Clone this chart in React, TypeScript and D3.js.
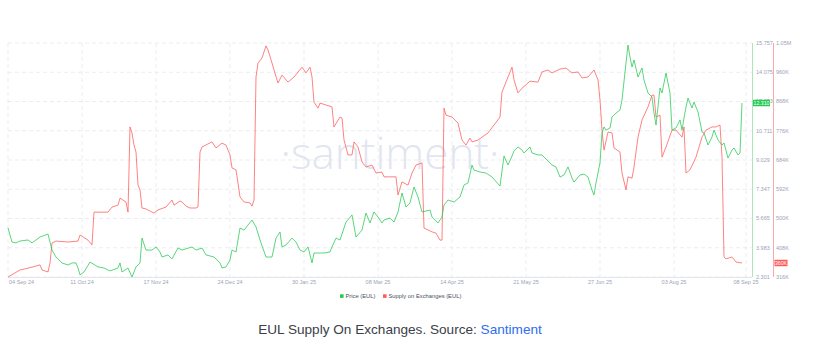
import React, { useEffect, useRef } from "react";
import * as d3 from "d3";

const W = 822;
const H = 351;

const priceDates = [
  "2024-09-04","2024-09-06","2024-09-08","2024-09-10","2024-09-14","2024-09-16","2024-09-18","2024-09-20","2024-09-24","2024-09-25",
  "2024-09-26","2024-09-28","2024-10-01","2024-10-04","2024-10-06","2024-10-08","2024-10-09","2024-10-10","2024-10-12","2024-10-15",
  "2024-10-19","2024-10-22","2024-10-25","2024-10-29","2024-10-30","2024-10-31","2024-11-03","2024-11-05","2024-11-07","2024-11-09",
  "2024-11-10","2024-11-12","2024-11-15","2024-11-17","2024-11-19","2024-11-20","2024-11-23","2024-11-25","2024-11-28","2024-11-30",
  "2024-12-05","2024-12-07","2024-12-10","2024-12-12","2024-12-16","2024-12-19","2024-12-20","2024-12-22","2024-12-24","2024-12-25",
  "2024-12-27","2024-12-29","2024-12-31","2025-01-04","2025-01-06","2025-01-08","2025-01-11","2025-01-14","2025-01-16","2025-01-18",
  "2025-01-19","2025-01-21","2025-01-24","2025-01-26","2025-01-28","2025-01-30","2025-02-01","2025-02-03","2025-02-04","2025-02-07",
  "2025-02-09","2025-02-12","2025-02-13","2025-02-15","2025-02-17","2025-02-20","2025-02-23","2025-02-25","2025-02-28","2025-03-02",
  "2025-03-04","2025-03-06","2025-03-08","2025-03-10","2025-03-11","2025-03-14","2025-03-16","2025-03-18","2025-03-20","2025-03-22",
  "2025-03-24","2025-03-26","2025-03-28","2025-03-30","2025-04-03","2025-04-04","2025-04-07","2025-04-09","2025-04-10","2025-04-12",
  "2025-04-15","2025-04-18","2025-04-20","2025-04-22","2025-04-24","2025-04-25","2025-04-28","2025-05-01","2025-05-04","2025-05-08",
  "2025-05-10","2025-05-12","2025-05-14","2025-05-15","2025-05-17","2025-05-19","2025-05-20","2025-05-23","2025-05-24","2025-05-27",
  "2025-05-29","2025-05-30","2025-06-02","2025-06-03","2025-06-05","2025-06-07","2025-06-09","2025-06-11","2025-06-13","2025-06-14",
  "2025-06-17","2025-06-19","2025-06-21","2025-06-23","2025-06-24","2025-06-25","2025-06-27","2025-06-28","2025-06-29","2025-06-30",
  "2025-07-02","2025-07-03","2025-07-05","2025-07-07","2025-07-08","2025-07-10","2025-07-11","2025-07-12","2025-07-13","2025-07-14",
  "2025-07-16","2025-07-18","2025-07-19","2025-07-21","2025-07-23","2025-07-24","2025-07-25","2025-07-27","2025-07-28","2025-07-30",
  "2025-08-01","2025-08-02","2025-08-04","2025-08-06","2025-08-07","2025-08-08","2025-08-09","2025-08-10","2025-08-12","2025-08-13",
  "2025-08-15","2025-08-17","2025-08-18","2025-08-20","2025-08-22","2025-08-23","2025-08-25","2025-08-27","2025-08-28","2025-08-30",
  "2025-09-01","2025-09-02","2025-09-04","2025-09-05","2025-09-06",
];
const priceValues = [
  5.12,4.31,4.26,4.37,4.43,4.26,4.43,4.60,4.77,4.31,
  3.85,3.45,3.11,2.99,3.11,3.11,2.82,2.42,2.59,3.16,
  2.88,2.82,2.65,2.82,3.11,2.59,2.82,2.30,2.88,3.11,
  4.54,3.85,3.85,4.03,3.74,3.45,3.57,3.34,3.97,3.85,
  4.03,3.85,3.97,3.57,3.45,3.11,2.82,2.88,3.28,3.85,
  3.74,5.12,5.00,5.58,5.18,4.43,3.45,3.45,4.54,4.89,
  4.03,4.14,4.54,4.31,3.85,3.74,4.03,3.11,3.68,3.68,
  3.68,3.74,4.03,4.54,4.43,5.46,5.87,4.60,5.00,5.98,
  5.41,6.04,5.75,5.41,5.58,5.69,5.46,6.04,7.13,6.33,
  6.56,7.48,6.90,6.04,6.15,5.75,5.41,5.75,6.44,6.73,
  6.61,6.90,7.59,7.71,8.74,8.45,8.34,8.28,8.05,7.53,
  9.26,8.74,9.26,9.55,9.78,9.60,9.43,9.78,9.43,9.32,
  9.32,9.20,8.86,8.74,8.63,8.05,8.17,8.63,7.99,7.76,
  8.17,8.22,8.05,7.30,7.02,7.71,8.86,10.58,10.93,10.75,
  10.87,11.50,11.73,11.90,12.48,14.61,15.64,14.95,14.38,14.78,
  13.80,14.32,13.63,12.88,12.65,11.73,11.04,13.17,12.88,14.03,
  12.88,10.75,10.87,11.33,10.75,11.44,12.08,12.59,12.02,12.36,
  11.79,10.64,10.58,9.89,10.35,10.75,10.18,9.89,10.01,9.14,
  9.60,9.72,9.32,9.43,12.31,
];

const supplyDates = [
  "2024-09-04","2024-09-10","2024-09-16","2024-09-20","2024-09-21","2024-09-24","2024-09-25","2024-09-26","2024-09-28","2024-10-04",
  "2024-10-09","2024-10-10","2024-10-14","2024-10-16","2024-10-17","2024-10-24","2024-10-26","2024-10-29","2024-10-30","2024-11-02",
  "2024-11-03","2024-11-04","2024-11-05","2024-11-06","2024-11-07","2024-11-08","2024-11-09","2024-11-10","2024-11-12","2024-11-16",
  "2024-11-18","2024-11-22","2024-11-25","2024-11-26","2024-11-29","2024-11-30","2024-12-02","2024-12-04","2024-12-07","2024-12-08",
  "2024-12-09","2024-12-10","2024-12-15","2024-12-17","2024-12-20","2024-12-22","2024-12-24","2024-12-25","2024-12-27","2024-12-29",
  "2024-12-31","2025-01-03","2025-01-04","2025-01-05","2025-01-06","2025-01-07","2025-01-09","2025-01-11","2025-01-12","2025-01-14",
  "2025-01-15","2025-01-17","2025-01-19","2025-01-22","2025-01-25","2025-01-29","2025-01-31","2025-02-02","2025-02-03","2025-02-04",
  "2025-02-06","2025-02-07","2025-02-13","2025-02-14","2025-02-17","2025-02-18","2025-02-19","2025-02-21","2025-02-23","2025-02-24",
  "2025-02-26","2025-02-28","2025-03-02","2025-03-05","2025-03-07","2025-03-10","2025-03-11","2025-03-17","2025-03-18","2025-03-20",
  "2025-03-23","2025-03-25","2025-03-27","2025-03-30","2025-03-31","2025-04-04","2025-04-06","2025-04-08","2025-04-09","2025-04-10",
  "2025-04-11","2025-04-14","2025-04-17","2025-04-19","2025-04-21","2025-04-23","2025-04-24","2025-04-27","2025-04-29","2025-05-02",
  "2025-05-05","2025-05-08","2025-05-09","2025-05-11","2025-05-14","2025-05-15","2025-05-17","2025-05-19","2025-05-23","2025-05-27",
  "2025-05-29","2025-06-01","2025-06-03","2025-06-07","2025-06-10","2025-06-13","2025-06-16","2025-06-18","2025-06-21","2025-06-24",
  "2025-06-26","2025-06-27","2025-06-28","2025-06-29","2025-07-01","2025-07-03","2025-07-04","2025-07-07","2025-07-08","2025-07-10",
  "2025-07-11","2025-07-13","2025-07-14","2025-07-16","2025-07-18","2025-07-21","2025-07-23","2025-07-24","2025-07-25","2025-07-27",
  "2025-07-28","2025-07-30","2025-08-02","2025-08-04","2025-08-07","2025-08-08","2025-08-09","2025-08-11","2025-08-14","2025-08-17",
  "2025-08-19","2025-08-22","2025-08-24","2025-08-26","2025-08-27","2025-08-28","2025-08-29","2025-09-01","2025-09-03","2025-09-06",
];
// thousands of EUL
const supplyValues = [
  316,338,347,354,338,332,360,423,429,426,
  429,448,432,417,520,520,536,542,564,552,
  520,788,769,731,709,605,590,533,530,517,
  527,536,558,542,555,552,539,533,533,536,
  709,725,741,722,737,731,700,659,653,568,
  552,549,539,558,945,989,1005,1043,1030,989,
  967,926,951,929,945,976,958,976,945,866,
  847,863,851,788,819,816,747,700,700,741,
  725,678,662,668,643,646,631,631,574,615,
  605,643,668,675,470,458,454,432,432,847,
  825,819,800,747,731,753,741,747,756,769,
  794,819,898,929,976,936,895,910,932,929,
  961,967,958,970,973,958,961,942,945,967,
  936,873,778,715,772,769,722,709,643,590,
  631,627,662,756,810,851,888,888,819,825,
  693,725,778,778,756,788,643,653,693,756,
  778,788,788,794,693,379,373,379,363,360,
];

const priceTicks = [2.301, 3.983, 5.665, 7.347, 9.029, 10.711, 12.393, 14.075, 15.757];
const supplyTicks = [316, 408, 500, 592, 684, 776, 868, 960, 1052];
const xTickDates = [
  "2024-09-04","2024-10-11","2024-11-17","2024-12-24","2025-01-30","2025-03-08",
  "2025-04-14","2025-05-21","2025-06-27","2025-08-03","2025-09-08",
];
const xDomain = ["2024-09-04", "2025-09-11"];
const seriesNames = ["Price (EUL)", "Supply on Exchanges (EUL)"];
const titleText = "EUL Supply On Exchanges. Source: ";
const sourceText = "Santiment";

const GREEN = "#26c953";
const RED = "#ff5b5b";
const SMALL_FONT = "'Liberation Sans', Arial, sans-serif";

export default function App() {
  const ref = useRef<SVGSVGElement>(null);

  useEffect(() => {
    const svg = d3.select(ref.current);
    svg.selectAll("*").remove();
    const parse = d3.utcParse("%Y-%m-%d");
    const left = 8, right = 752, top = 43, bottom = 277;

    const x = d3.scaleUtc().domain(xDomain.map((d) => parse(d) as Date)).range([left, right]);
    const yP = d3.scaleLinear().domain([priceTicks[0], priceTicks[priceTicks.length - 1]]).range([bottom, top]);
    const yS = d3.scaleLinear().domain([supplyTicks[0], supplyTicks[supplyTicks.length - 1]]).range([bottom, top]);

    // horizontal gridlines
    svg.append("g").selectAll("line").data(priceTicks).join("line")
      .attr("x1", left).attr("x2", right)
      .attr("y1", (d) => yP(d)).attr("y2", (d) => yP(d))
      .attr("stroke", "#e6e8ee").attr("stroke-width", 0.8).attr("stroke-dasharray", "4,3");

    // vertical gridlines
    svg.append("g").selectAll("line").data(xTickDates).join("line")
      .attr("x1", (d) => x(parse(d) as Date)).attr("x2", (d) => x(parse(d) as Date))
      .attr("y1", top).attr("y2", bottom)
      .attr("stroke", "#e6e8ee").attr("stroke-width", 0.8).attr("stroke-dasharray", "4,3");

    // bottom axis line
    svg.append("line").attr("x1", left).attr("x2", right).attr("y1", bottom + 0.5).attr("y2", bottom + 0.5)
      .attr("stroke", "#e4e6ec").attr("stroke-width", 1);

    // watermark
    svg.append("text").attr("x", 390).attr("y", 169).attr("text-anchor", "middle")
      .attr("font-family", "'Open Sans', sans-serif").attr("font-weight", 300)
      .attr("font-size", 44).attr("fill", "#e2e5ef").text("·santiment·");

    // x tick labels
    svg.append("g").selectAll("text").data(xTickDates).join("text")
      .attr("x", (d, i) => x(parse(d) as Date) + (i === 0 ? 1 : 0))
      .attr("y", 283.5)
      .attr("text-anchor", (d, i) => (i === 0 ? "start" : "middle"))
      .attr("font-family", SMALL_FONT).attr("font-size", 5.5).attr("fill", "#9aa3b8")
      .text((d) => d3.utcFormat("%d %b %y")(parse(d) as Date));

    // lines
    const priceData = priceDates.map((d, i) => ({ date: parse(d) as Date, v: priceValues[i] }));
    const supplyData = supplyDates.map((d, i) => ({ date: parse(d) as Date, v: supplyValues[i] }));

    const linePrice = d3.line<{ date: Date; v: number }>().x((d) => x(d.date)).y((d) => yP(d.v));
    const lineSupply = d3.line<{ date: Date; v: number }>().x((d) => x(d.date)).y((d) => yS(d.v));

    svg.append("path").attr("d", lineSupply(supplyData) as string).attr("fill", "none")
      .attr("stroke", RED).attr("stroke-width", 0.9).attr("stroke-opacity", 0.85);
    svg.append("path").attr("d", linePrice(priceData) as string).attr("fill", "none")
      .attr("stroke", GREEN).attr("stroke-width", 0.9).attr("stroke-opacity", 0.85);

    // right axes
    svg.append("line").attr("x1", 752.5).attr("x2", 752.5).attr("y1", top).attr("y2", bottom)
      .attr("stroke", "#a9e9b9").attr("stroke-width", 1);
    svg.append("line").attr("x1", 773.5).attr("x2", 773.5).attr("y1", top).attr("y2", bottom)
      .attr("stroke", "#f8aaaa").attr("stroke-width", 1);

    svg.append("g").selectAll("text").data(priceTicks).join("text")
      .attr("x", 756).attr("y", (d) => yP(d)).attr("dy", "0.35em")
      .attr("font-family", SMALL_FONT).attr("font-size", 5.5).attr("fill", "#9aa3b8")
      .text((d) => d.toFixed(3));
    svg.append("g").selectAll("text").data(supplyTicks).join("text")
      .attr("x", 776).attr("y", (d) => yS(d)).attr("dy", "0.35em")
      .attr("font-family", SMALL_FONT).attr("font-size", 5.5).attr("fill", "#9aa3b8")
      .text((d) => (d >= 1000 ? (d / 1000).toFixed(2) + "M" : d + "K"));

    // last-value badges
    const lastP = priceValues[priceValues.length - 1];
    const lastS = supplyValues[supplyValues.length - 1];
    svg.append("rect").attr("x", 753).attr("y", yP(lastP) - 3.2).attr("width", 17).attr("height", 6.4)
      .attr("fill", GREEN).attr("rx", 0.5);
    svg.append("text").attr("x", 761.5).attr("y", yP(lastP)).attr("dy", "0.35em").attr("text-anchor", "middle")
      .attr("font-family", SMALL_FONT).attr("font-size", 5.2).attr("fill", "#fff").text(lastP.toFixed(3));
    svg.append("rect").attr("x", 774.5).attr("y", yS(lastS) - 3.2).attr("width", 13).attr("height", 6.4)
      .attr("fill", RED).attr("rx", 0.5);
    svg.append("text").attr("x", 781).attr("y", yS(lastS)).attr("dy", "0.35em").attr("text-anchor", "middle")
      .attr("font-family", SMALL_FONT).attr("font-size", 5.2).attr("fill", "#fff").text(lastS + "K");

    // legend
    const legend = svg.append("g");
    const legendX = [340, 383];
    const colors = [GREEN, RED];
    seriesNames.forEach((name, i) => {
      legend.append("rect").attr("x", legendX[i]).attr("y", 294.3).attr("width", 3.6).attr("height", 3.6).attr("fill", colors[i]);
      legend.append("text").attr("x", legendX[i] + 5.5).attr("y", 296.2).attr("dy", "0.35em")
        .attr("font-family", SMALL_FONT).attr("font-size", 5.8).attr("fill", "#4a4f5a").text(name);
    });

    // title
    const t = svg.append("text").attr("x", 400).attr("y", 334).attr("text-anchor", "middle")
      .attr("font-family", "'Liberation Sans', Arial, sans-serif").attr("font-size", 13.6).attr("fill", "#3c4048");
    t.append("tspan").text(titleText);
    t.append("tspan").attr("fill", "#2f6df0").text(sourceText);
  }, []);

  return (
    <div style={{ position: "absolute", left: 0, top: 0, width: W, height: H, background: "#fff" }}>
      <svg ref={ref} width={W} height={H} />
    </div>
  );
}
